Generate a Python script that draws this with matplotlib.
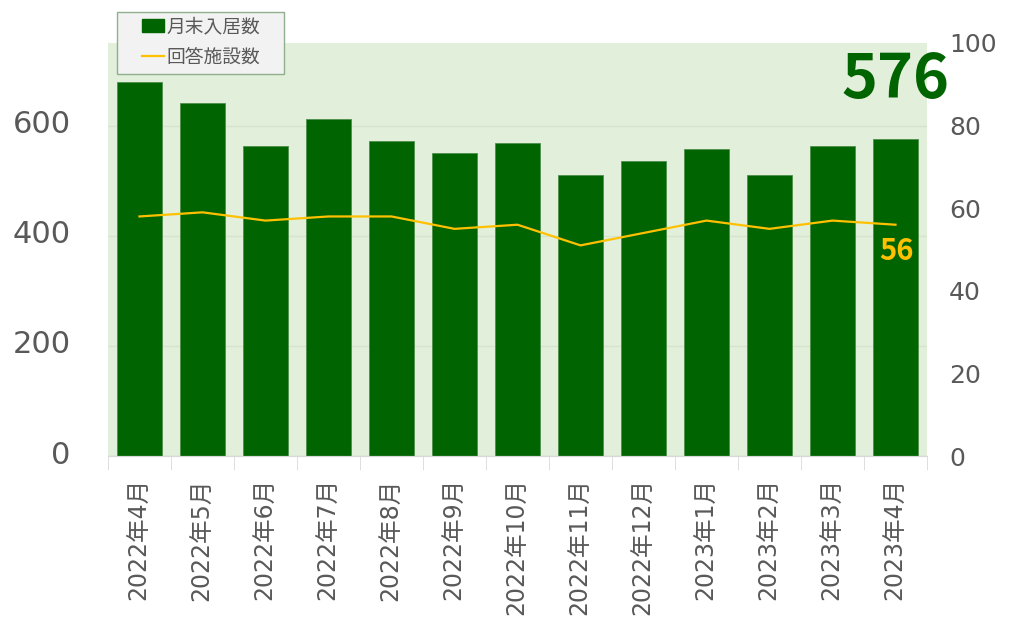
import numpy as np
import matplotlib.pyplot as plt
import matplotlib.transforms as mtransforms
from matplotlib.lines import Line2D
from matplotlib.patches import Patch, Rectangle

# --- data ---
months = ["2022年4月", "2022年5月", "2022年6月", "2022年7月", "2022年8月",
          "2022年9月", "2022年10月", "2022年11月", "2022年12月", "2023年1月",
          "2023年2月", "2023年3月", "2023年4月"]
residents = [679, 641, 563, 612, 572, 550, 568, 510, 536, 557, 510, 563, 576]
facilities = [58, 59, 57, 58, 58, 55, 56, 51, 54, 57, 55, 57, 56]

plt.rcParams['font.family'] = ['DejaVu Sans', 'Noto Sans CJK JP']
bold_font = ['Noto Sans CJK JP', 'DejaVu Sans']

bar_green = "#006400"
line_yellow = "#FFC000"
bg_green = "#E2EFDA"
grey_txt = "#595959"

W, H = 1013, 621
fig = plt.figure(figsize=(W / 100, H / 100), dpi=100)
ax = fig.add_axes([108 / W, 1 - 456 / H, 819 / W, 413 / H])
ax2 = ax.twinx()

x = np.arange(len(months))

# --- bars ---
ax.set_facecolor(bg_green)
ax.bar(x, residents, width=0.71, color=bar_green, edgecolor="#4E8F4E",
       linewidth=0.6, zorder=2)
ax.set_ylim(0, 750)
ax.set_yticks([0, 200, 400, 600])
ax.set_xlim(-0.5, len(months) - 0.5)
ax.grid(axis="y", color="#D6E4CC", linewidth=1, zorder=0)
ax.set_axisbelow(True)

# --- line ---
ax2.plot(x, facilities, color=line_yellow, linewidth=1.6, zorder=3)
ax2.set_ylim(0, 100)
ax2.set_yticks([0, 20, 40, 60, 80, 100])

# --- ticks / spines ---
ax.set_xticks(x)
ax.set_xticklabels(months, rotation=90, fontsize=17, color=grey_txt)
ax.tick_params(axis="x", length=0, pad=16)
ax.set_xticks(np.arange(-0.5, len(months)), minor=True)
ax.tick_params(axis="x", which="minor", length=10, color="#D9D9D9")
ax.tick_params(axis="y", length=0, labelsize=22, labelcolor=grey_txt, pad=27)
ax2.tick_params(axis="y", length=0, labelsize=18, labelcolor=grey_txt, pad=16)
shift_up = mtransforms.ScaledTranslation(0, 4 / 100, fig.dpi_scale_trans)
for lbl in ax.get_yticklabels():
    lbl.set_transform(lbl.get_transform() + shift_up)
for a in (ax, ax2):
    for s in ("top", "left", "right"):
        a.spines[s].set_visible(False)
    a.spines["bottom"].set_color("#D9D9D9")

# --- labels for the latest month ---
ax2.annotate(str(facilities[-1]), xy=(x[-1], facilities[-1]), xytext=(1, -8),
             textcoords="offset points", ha="center", va="top",
             fontsize=21, fontweight="bold", color=line_yellow,
             family=bold_font)
ax.annotate(str(residents[-1]), xy=(x[-1], residents[-1]), xytext=(0, 42),
            textcoords="offset points", ha="center", va="center",
            fontsize=44, fontweight="bold", color=bar_green,
            family=bold_font)

# --- legend ---
fig.patches.append(Rectangle((117 / W, 1 - 74 / H), 167 / W, 62 / H,
                             transform=fig.transFigure, facecolor="#F2F2F2",
                             edgecolor="#8FAF8F", linewidth=1, zorder=5))
handles = [
    Patch(facecolor=bar_green, edgecolor=bar_green),
    Line2D([], [], color=line_yellow, linewidth=1.6),
]
leg = fig.legend(handles, ["月末入居数", "回答施設数"], loc="upper left",
                 bbox_to_anchor=(142 / W, 1 - 17 / H), fontsize=13.5,
                 frameon=False, handlelength=1.15, handleheight=0.7,
                 handletextpad=0.15, borderpad=0, labelspacing=0.6,
                 borderaxespad=0)
leg.set_zorder(6)
for t in leg.get_texts():
    t.set_color(grey_txt)

fig.savefig("out.png", dpi=100)
